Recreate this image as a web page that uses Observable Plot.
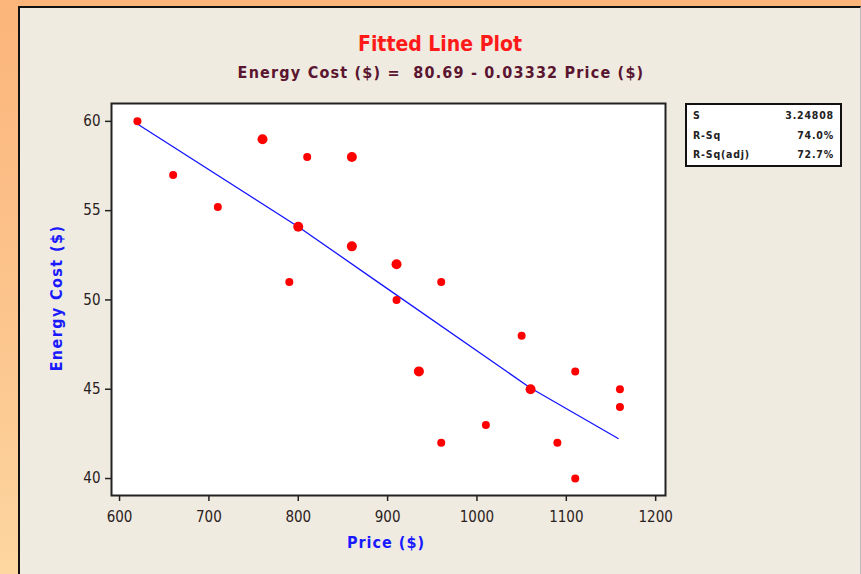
<!DOCTYPE html>
<html>
<head>
<meta charset="utf-8">
<script src="https://cdn.jsdelivr.net/npm/d3@7"></script>
<script src="https://cdn.jsdelivr.net/npm/@observablehq/plot@0.6"></script>
<style>
  html, body { margin: 0; padding: 0; }
  body { width: 861px; height: 574px; overflow: hidden;
    background: linear-gradient(180deg, #fbb57a 0%, #fcc68f 60%, #fdd6a0 100%); }
  #wrap { position: relative; width: 861px; height: 574px; }
  #panel { position: absolute; left: 18px; top: 6px; width: 843px; height: 570px;
    background: #f0ebe0; border-left: 2px solid #111; border-top: 2px solid #111;
    border-right: 1px solid #bbb; box-sizing: border-box; }
  #chart { position: absolute; left: 0; top: 0; }
  .t { position: absolute; font-family: "DejaVu Sans Condensed", "DejaVu Sans", sans-serif; white-space: nowrap; }
  #title { left: 0; width: 880px; top: 32px; text-align: center; color: #ff1a1a; font-size: 21px; font-weight: bold; }
  #sub { left: 0; width: 882px; top: 63px; text-align: center; color: #5a1530; font-size: 16px; font-weight: bold; letter-spacing: 1.2px; }
  #xlab { left: 0; width: 772px; top: 533px; text-align: center; color: #1a1aff; font-size: 16px; font-weight: bold; letter-spacing: 1px; }
  #ylab { left: 56px; top: 298px; transform: translate(-50%, -50%) rotate(-90deg); color: #1a1aff; font-size: 16px; font-weight: bold; letter-spacing: 1.4px; }
  #legend { position: absolute; left: 685px; top: 103px; width: 157px; height: 64px; box-sizing: border-box;
    background: #fff; border: 2px solid #111; font-family: "DejaVu Sans Condensed", "DejaVu Sans", sans-serif;
    font-size: 10.5px; font-weight: bold; color: #222; letter-spacing: 0.8px; }
  #legend .row { position: absolute; left: 6px; right: 6px; display: flex; justify-content: space-between; }
</style>
</head>
<body>
<div id="wrap">
  <div id="panel"></div>
  <div id="chart"></div>
  <div class="t" id="title">Fitted Line Plot</div>
  <div class="t" id="sub">Energy Cost ($) =&nbsp; 80.69 - 0.03332 Price ($)</div>
  <div class="t" id="xlab">Price ($)</div>
  <div class="t" id="ylab">Energy Cost ($)</div>
  <div id="legend"></div>
</div>
<script>
const price  = [620, 660, 710, 760, 790, 800, 810, 860, 860, 910, 910, 935, 960, 960, 1010, 1050, 1060, 1090, 1110, 1110, 1160, 1160];
const energy = [60, 57, 55.2, 59, 51, 54.1, 58, 58, 53, 52, 50, 46, 51, 42, 43, 48, 45, 42, 46, 40, 45, 44];
const count  = [1, 1, 1, 2, 1, 2, 1, 2, 2, 2, 1, 2, 1, 1, 1, 1, 2, 1, 1, 1, 1, 1];

const fitX = [620, 800, 892, 1059, 1158];
const fitY = [59.85, 54.1, 50.9, 45.1, 42.24];

const xTicks = [600, 700, 800, 900, 1000, 1100, 1200];
const yTicks = [40, 45, 50, 55, 60];

const statLabels = ["S", "R-Sq", "R-Sq(adj)"];
const statValues = ["3.24808", "74.0%", "72.7%"];

const pts = price.map((p, i) => ({p, e: energy[i], c: count[i]}));
const fit = fitX.map((x, i) => ({x, y: fitY[i]}));

const chart = Plot.plot({
  width: 861,
  height: 574,
  marginLeft: 111,
  marginRight: 196,
  marginTop: 103,
  marginBottom: 79,
  style: { background: "transparent", fontFamily: "'DejaVu Sans Condensed', 'DejaVu Sans', sans-serif", fontSize: "15px", color: "#2a2222" },
  x: { domain: [591, 1211], label: null },
  y: { domain: [39.05, 61.0], label: null },
  marks: [
    Plot.frame({ fill: "white", stroke: "none" }),
    Plot.line(fit, { x: "x", y: "y", stroke: "#1414ff", strokeWidth: 1.3 }),
    Plot.dot(pts.filter(d => d.c === 1), { x: "p", y: "e", r: 4.0, fill: "#ff0000", stroke: "none" }),
    Plot.dot(pts.filter(d => d.c > 1), { x: "p", y: "e", r: 5.0, fill: "#ff0000", stroke: "none" }),
    Plot.frame({ stroke: "#222", strokeWidth: 2 }),
    Plot.axisX({ ticks: xTicks, tickFormat: "d", tickSize: 6, tickPadding: 10, label: null, stroke: "#222", strokeWidth: 1.5, fontSize: 15 }),
    Plot.axisY({ ticks: yTicks, tickFormat: "d", tickSize: 6, tickPadding: 5, label: null, stroke: "#222", strokeWidth: 1.5, fontSize: 15 })
  ]
});
document.getElementById("chart").appendChild(chart);

const leg = document.getElementById("legend");
statLabels.forEach((l, i) => {
  const r = document.createElement("div");
  r.className = "row";
  r.style.top = (4 + i * 19.5) + "px";
  r.innerHTML = `<span>${l}</span><span>${statValues[i]}</span>`;
  leg.appendChild(r);
});
</script>
</body>
</html>
